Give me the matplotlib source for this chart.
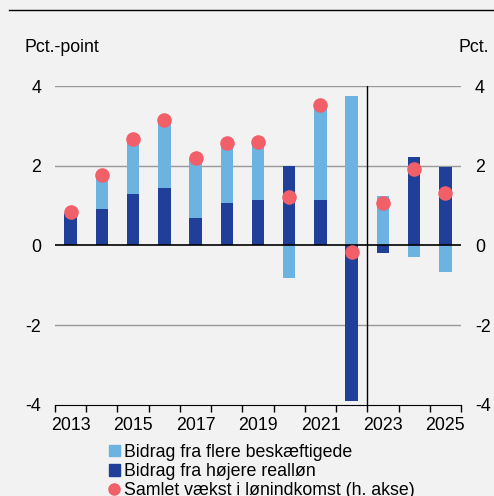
import numpy as np
import matplotlib.pyplot as plt
from matplotlib.patches import Patch
from matplotlib.lines import Line2D

plt.rcParams['font.family'] = ['Liberation Sans', 'DejaVu Sans']

years = list(range(2013, 2026))
flere = [0.05, 0.87, 1.39, 1.70, 1.51, 1.51, 1.41, -0.82, 2.40, 3.74, 1.25, -0.29, -0.67]
hoejere = [0.80, 0.91, 1.29, 1.44, 0.69, 1.06, 1.14, 2.00, 1.13, -3.90, -0.19, 2.22, 1.98]
samlet = [0.85, 1.78, 2.68, 3.14, 2.20, 2.57, 2.59, 1.21, 3.53, -0.16, 1.07, 1.92, 1.32]
tick_years = [2013, 2015, 2017, 2019, 2021, 2023, 2025]

bg = '#f2f2f2'
c_light = '#6db3e1'
c_dark = '#1f3f98'
c_dot = '#f15f68'
fs = 12.8

fig = plt.figure(figsize=(4.94, 4.96), dpi=100, facecolor=bg)
ax = fig.add_axes([0.1113, 0.1835, 0.8219, 0.6431], facecolor=bg)

x = np.arange(len(years))
fl = np.array(flere)
hj = np.array(hoejere)
# light part stacks on the dark part when both have the same sign
light_bottom = np.where(fl >= 0, np.maximum(hj, 0), np.minimum(hj, 0))
ax.bar(x, hj, width=0.4, color=c_dark, zorder=3)
ax.bar(x, fl, width=0.4, bottom=light_bottom, color=c_light, zorder=3)

ax.set_xlim(-0.5, len(years) - 0.5)
ax.set_ylim(-4, 4)
for v in [4, 2, -2]:
    ax.axhline(v, color='#999999', lw=1, zorder=1)
ax.axhline(0, color='black', lw=1.2, zorder=4)
ax.axvline(9.5, color='black', lw=1, zorder=4)

ax.set_yticks([-4, -2, 0, 2, 4])
ax.set_yticklabels(['-4', '-2', '0', '2', '4'])
ax.tick_params(axis='y', length=0, labelsize=fs, pad=10)

ax.set_xticks(np.arange(len(years) + 1) - 0.5)
ax.set_xticklabels([])
ax.tick_params(axis='x', direction='out', length=5, width=1, color='black')
for yr in tick_years:
    ax.text(years.index(yr), -4.3, str(yr), ha='center', va='top', fontsize=fs)

for s in ['top', 'left', 'right']:
    ax.spines[s].set_visible(False)
ax.spines['bottom'].set_color('black')

ax2 = ax.twinx()
ax2.set_ylim(-4, 4)
ax2.scatter(x, samlet, s=110, color=c_dot, zorder=5, linewidths=0)
ax2.set_yticks([-4, -2, 0, 2, 4])
ax2.set_yticklabels(['-4', '-2', '0', '2', '4'])
ax2.tick_params(axis='y', length=0, labelsize=fs, pad=10)
for s in ['top', 'left', 'right', 'bottom']:
    ax2.spines[s].set_visible(False)

fig.text(24 / 494, 1 - 48 / 496, 'Pct.-point', fontsize=fs, va='center', ha='left')
fig.text(489 / 494, 1 - 48 / 496, 'Pct.', fontsize=fs, va='center', ha='right')

fig.add_artist(Line2D([9 / 494, 1], [1 - 10 / 496, 1 - 10 / 496], color='black', lw=1))

handles = [Patch(color=c_light), Patch(color=c_dark),
           Line2D([], [], marker='o', color=c_dot, ls='none', markersize=8)]
labels = ['Bidrag fra flere beskæftigede', 'Bidrag fra højere realløn',
          'Samlet vækst i lønindkomst (h. akse)']
fig.legend(handles, labels, loc='upper left', bbox_to_anchor=(109 / 494, 1 - 444 / 496),
           frameon=False, fontsize=fs, handlelength=0.6, handleheight=0.6,
           handletextpad=0.25, labelspacing=0.12, borderpad=0, borderaxespad=0)

plt.savefig('out.png', dpi=100, facecolor=bg)
